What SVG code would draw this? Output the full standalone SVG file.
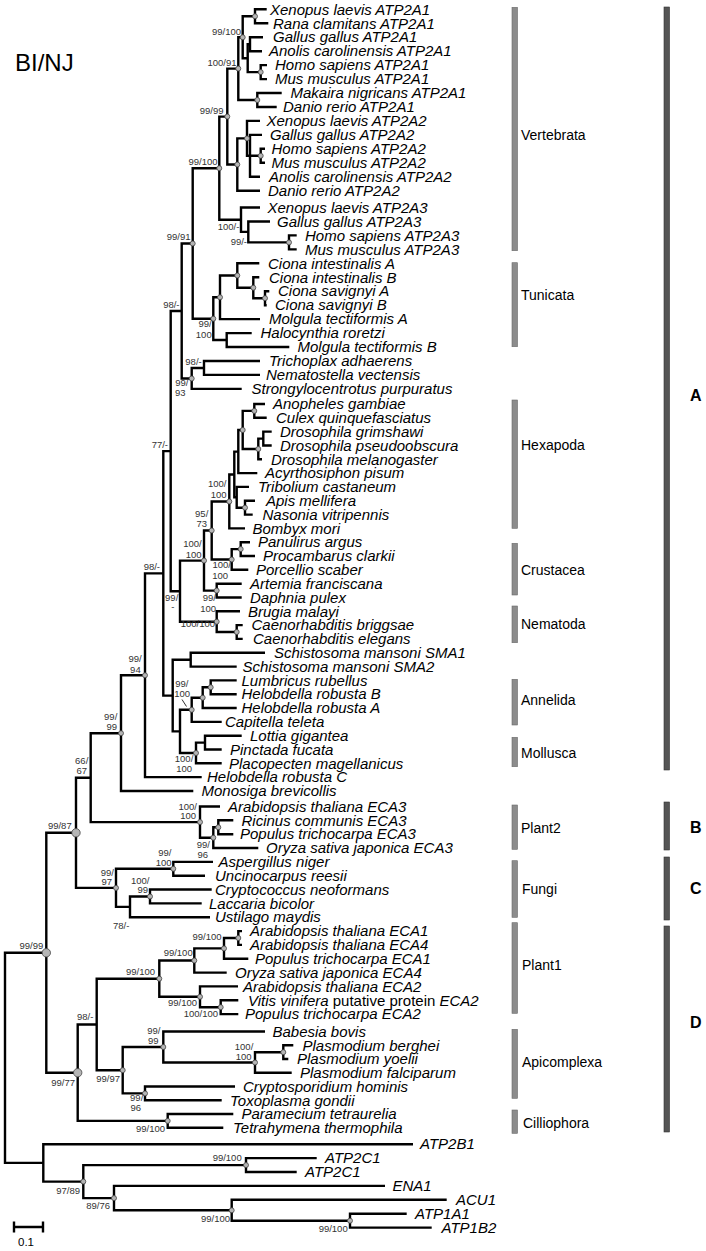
<svg xmlns="http://www.w3.org/2000/svg" width="706" height="1251" viewBox="0 0 706 1251">
<style>
.br{fill:none;stroke:#000;stroke-width:2.4;stroke-linejoin:miter;stroke-linecap:butt}
.lf{font-family:"Liberation Sans",Arial,sans-serif;font-size:15px;font-style:italic;fill:#000}
.nr{font-style:normal}
.sp{font-family:"Liberation Sans",Arial,sans-serif;font-size:9.5px;fill:#333;text-anchor:end}
.dt{fill:#b5b5b5;stroke:#444;stroke-width:0.8}
.cl{font-family:"Liberation Sans",Arial,sans-serif;font-size:14px;fill:#000}
.b1{fill:#8c8c8c;stroke:#6a6a6a;stroke-width:0.6}
.b2{fill:#555;stroke:#333;stroke-width:0.6}
.gl{font-family:"Liberation Sans",Arial,sans-serif;font-size:16px;font-weight:bold;fill:#000}
</style>
<rect width="706" height="1251" fill="#fff"/>
<text x="15" y="70.5" font-family="Liberation Sans, Arial, sans-serif" font-size="24" fill="#000">BI/NJ</text>
<g id="branches" class="br">
<path d="M266.7 9.3H255V23.3H268.3"/>
<path d="M263 37.2H250V51.2H262"/>
<path d="M267 65.1H260.7V79.1H267"/>
<path d="M250 44.2H247.7V72.1H260.7"/>
<path d="M255 16.3H242.7V58.2H247.7"/>
<path d="M281.7 93H257.3V107H276.7"/>
<path d="M242.7 37.3H238.3V100H257.3"/>
<path d="M265 148.8H260.7V162.8H265"/>
<path d="M262 134.9H250V176.7H260M250 155.8H260.7"/>
<path d="M260 120.9H247V155.8H250"/>
<path d="M247 138.4H237.3V190.7H260"/>
<path d="M238.3 68.6H227.3V164.5H237.3"/>
<path d="M296.7 235.4H289V249.4H296.7"/>
<path d="M270 221.5H248.3V242.4H289"/>
<path d="M260 207.5H241V231.9H248.3"/>
<path d="M227.3 116.6H219.3V219.7H241"/>
<path d="M269.3 291.2H265V305.2H266.7"/>
<path d="M259.3 277.3H253.3V298.2H265"/>
<path d="M259.3 263.3H237.3V287.7H253.3"/>
<path d="M237.3 275.5H220V319.1H260"/>
<path d="M251.7 333.1H226.7V347H289.3"/>
<path d="M220 297.3H213.3V340H226.7"/>
<path d="M219.3 168.2H192.7V318.7H213.3"/>
<path d="M260 361H204V374.9H260"/>
<path d="M204 368H191.7V388.9H241.7"/>
<path d="M192.7 243.5H181.7V378.5H191.7"/>
<path d="M265 404H254.3V417.8H266.7"/>
<path d="M271.7 431.6H263.3V445.5H271.7"/>
<path d="M263.3 438.6H258.3V459.3H262"/>
<path d="M254.3 410.9H242.7V449H258.3"/>
<path d="M242.7 430H238.3V473.1H257.3"/>
<path d="M255 500.7H245V514.6H252.7"/>
<path d="M249 486.9H236.7V507.7H245"/>
<path d="M238.3 451.6H234.3V497.3H236.7"/>
<path d="M234.3 474.5H229.3V528.4H245"/>
<path d="M250 542.2H240.7V556H255"/>
<path d="M240.7 549.1H231.7V569.8H248.3"/>
<path d="M229.3 501.5H211.7V559.5H231.7"/>
<path d="M241.7 583.7H216.7V597.5H241.7"/>
<path d="M211.7 530.5H204V590.6H216.7"/>
<path d="M242.7 625.1H236.7V638.9H242.7"/>
<path d="M240 611.3H216.7V632H236.7"/>
<path d="M204 560.6H180V621.7H216.7"/>
<path d="M181.7 311H170.7V591.2H180"/>
<path d="M265 652.8H190.7V666.6H236.7"/>
<path d="M236.7 680.4H210.7V694.2H236.7"/>
<path d="M210.7 687.3H202.7V708H236.7"/>
<path d="M202.7 697.7H191.7V721.9H221.7"/>
<path d="M241.7 735.7H205V749.5H221.7"/>
<path d="M205 742.6H196V763.3H221.7"/>
<path d="M191.7 709.8H180V753H196"/>
<path d="M190.7 659.7H172.7V731.4H180"/>
<path d="M170.7 451.1H163.3V695.6H172.7"/>
<path d="M163.3 573.4H145V777.1H201.7"/>
<path d="M145 675.3H121V791H193.3"/>
<path d="M233.3 820.3H218.3V834.2H233.3"/>
<path d="M218.3 827.3H213.3V848H258.3"/>
<path d="M220 806.5H200V837.7H213.3"/>
<path d="M121 733.2H90.7V822.1H200"/>
<path d="M213 861.9H173.3V875.7H205"/>
<path d="M211.7 889.5H150V903.4H201.7"/>
<path d="M150 896.5H130V917.2H210"/>
<path d="M173.3 868.8H116V906.9H130"/>
<path d="M90.7 777.7H76V887.9H116"/>
<path d="M242 931.1H238.3V944.9H242"/>
<path d="M238.3 938H224V958.7H248.3"/>
<path d="M224 948.4H194.3V972.6H226.7"/>
<path d="M238.3 1000.3H220.7V1014.1H238.3"/>
<path d="M238 986.4H200V1007.2H220.7"/>
<path d="M194.3 960.5H159.3V996.8H200"/>
<path d="M293.3 1045.3H283.3V1059H288.3"/>
<path d="M283.3 1052.2H255V1072.8H291.7"/>
<path d="M265 1031.5H163.3V1062.5H255"/>
<path d="M235 1086.5H145V1100.3H221.7"/>
<path d="M163.3 1047H122.7V1093.4H145"/>
<path d="M159.3 978.7H96.7V1070.2H122.7"/>
<path d="M233.3 1114H167.7V1127.8H223.3"/>
<path d="M96.7 1024.5H77.7V1120.9H167.7"/>
<path d="M76 832.8H46.3V1072.7H77.7"/>
<path d="M316.7 1158.1H246V1172H296.7"/>
<path d="M406.7 1213.7H350V1227.6H431.7"/>
<path d="M446.7 1199.8H231.7V1220.7H350"/>
<path d="M385 1185.9H114V1210.3H231.7"/>
<path d="M246 1165.1H83.3V1198.1H114"/>
<path d="M413 1144.2H43.3V1181.6H83.3"/>
<path d="M46.3 952.8H5V1162.9H43.3"/>
</g>
<g id="leaves" class="lf">
<g id="leaf0"><text x="270" y="14.5">Xenopus laevis ATP2A1</text></g>
<g id="leaf1"><text x="273" y="28.5">Rana clamitans ATP2A1</text></g>
<g id="leaf2"><text x="273" y="42.4">Gallus gallus ATP2A1</text></g>
<g id="leaf3"><text x="269" y="56.4">Anolis carolinensis ATP2A1</text></g>
<g id="leaf4"><text x="275" y="70.3">Homo sapiens ATP2A1</text></g>
<g id="leaf5"><text x="275" y="84.3">Mus musculus ATP2A1</text></g>
<g id="leaf6"><text x="290.5" y="98.2">Makaira nigricans ATP2A1</text></g>
<g id="leaf7"><text x="283" y="112.2">Danio rerio ATP2A1</text></g>
<g id="leaf8"><text x="266.5" y="126.1">Xenopus laevis ATP2A2</text></g>
<g id="leaf9"><text x="270" y="140.1">Gallus gallus ATP2A2</text></g>
<g id="leaf10"><text x="271.5" y="154">Homo sapiens ATP2A2</text></g>
<g id="leaf11"><text x="271.5" y="168">Mus musculus ATP2A2</text></g>
<g id="leaf12"><text x="269" y="181.9">Anolis carolinensis ATP2A2</text></g>
<g id="leaf13"><text x="268" y="195.9">Danio rerio ATP2A2</text></g>
<g id="leaf14"><text x="267.5" y="212.7">Xenopus laevis ATP2A3</text></g>
<g id="leaf15"><text x="277" y="226.7">Gallus gallus ATP2A3</text></g>
<g id="leaf16"><text x="305" y="240.6">Homo sapiens ATP2A3</text></g>
<g id="leaf17"><text x="305" y="254.6">Mus musculus ATP2A3</text></g>
<g id="leaf18"><text x="268" y="268.5">Ciona intestinalis A</text></g>
<g id="leaf19"><text x="269" y="282.5">Ciona intestinalis B</text></g>
<g id="leaf20"><text x="278" y="296.4">Ciona savignyi A</text></g>
<g id="leaf21"><text x="275" y="310.4">Ciona savignyi B</text></g>
<g id="leaf22"><text x="269" y="324.3">Molgula tectiformis A</text></g>
<g id="leaf23"><text x="260.5" y="338.3">Halocynthia roretzi</text></g>
<g id="leaf24"><text x="297.5" y="352.2">Molgula tectiformis B</text></g>
<g id="leaf25"><text x="269" y="366.2">Trichoplax adhaerens</text></g>
<g id="leaf26"><text x="266" y="380.1">Nematostella vectensis</text></g>
<g id="leaf27"><text x="251.5" y="394.1">Strongylocentrotus purpuratus</text></g>
<g id="leaf28"><text x="273" y="409.2">Anopheles gambiae</text></g>
<g id="leaf29"><text x="276" y="423">Culex quinquefasciatus</text></g>
<g id="leaf30"><text x="280" y="436.8">Drosophila grimshawi</text></g>
<g id="leaf31"><text x="280" y="450.7">Drosophila pseudoobscura</text></g>
<g id="leaf32"><text x="271" y="464.5">Drosophila melanogaster</text></g>
<g id="leaf33"><text x="265" y="478.3">Acyrthosiphon pisum</text></g>
<g id="leaf34"><text x="258" y="492.1">Tribolium castaneum</text></g>
<g id="leaf35"><text x="266" y="505.9">Apis mellifera</text></g>
<g id="leaf36"><text x="262.5" y="519.8">Nasonia vitripennis</text></g>
<g id="leaf37"><text x="252.5" y="533.6">Bombyx mori</text></g>
<g id="leaf38"><text x="258" y="547.4">Panulirus argus</text></g>
<g id="leaf39"><text x="263" y="561.2">Procambarus clarkii</text></g>
<g id="leaf40"><text x="256" y="575">Porcellio scaber</text></g>
<g id="leaf41"><text x="250" y="588.9">Artemia franciscana</text></g>
<g id="leaf42"><text x="250" y="602.7">Daphnia pulex</text></g>
<g id="leaf43"><text x="248" y="616.5">Brugia malayi</text></g>
<g id="leaf44"><text x="251.5" y="630.3">Caenorhabditis briggsae</text></g>
<g id="leaf45"><text x="253" y="644.1">Caenorhabditis elegans</text></g>
<g id="leaf46"><text x="274" y="658">Schistosoma mansoni SMA1</text></g>
<g id="leaf47"><text x="242.5" y="671.8">Schistosoma mansoni SMA2</text></g>
<g id="leaf48"><text x="241.5" y="685.6">Lumbricus rubellus</text></g>
<g id="leaf49"><text x="241.5" y="699.4">Helobdella robusta B</text></g>
<g id="leaf50"><text x="241.5" y="713.2">Helobdella robusta A</text></g>
<g id="leaf51"><text x="225" y="727.1">Capitella teleta</text></g>
<g id="leaf52"><text x="250" y="740.9">Lottia gigantea</text></g>
<g id="leaf53"><text x="230" y="754.7">Pinctada fucata</text></g>
<g id="leaf54"><text x="229" y="768.5">Placopecten magellanicus</text></g>
<g id="leaf55"><text x="207" y="782.3">Helobdella robusta C</text></g>
<g id="leaf56"><text x="201.5" y="796.2">Monosiga brevicollis</text></g>
<g id="leaf57"><text x="228" y="811.7">Arabidopsis thaliana ECA3</text></g>
<g id="leaf58"><text x="241.5" y="825.5">Ricinus communis ECA3</text></g>
<g id="leaf59"><text x="240" y="839.4">Populus trichocarpa ECA3</text></g>
<g id="leaf60"><text x="266" y="853.2">Oryza sativa japonica ECA3</text></g>
<g id="leaf61"><text x="218.5" y="867.1">Aspergillus niger</text></g>
<g id="leaf62"><text x="215" y="880.9">Uncinocarpus reesii</text></g>
<g id="leaf63"><text x="215" y="894.7">Cryptococcus neoformans</text></g>
<g id="leaf64"><text x="209" y="908.6">Laccaria bicolor</text></g>
<g id="leaf65"><text x="215" y="922.4">Ustilago maydis</text></g>
<g id="leaf66"><text x="250" y="936.3">Arabidopsis thaliana ECA1</text></g>
<g id="leaf67"><text x="250" y="950.1">Arabidopsis thaliana ECA4</text></g>
<g id="leaf68"><text x="255" y="963.9">Populus trichocarpa ECA1</text></g>
<g id="leaf69"><text x="235" y="977.8">Oryza sativa japonica ECA4</text></g>
<g id="leaf70"><text x="243" y="991.6">Arabidopsis thaliana ECA2</text></g>
<g id="leaf71"><text x="248" y="1005.5"><tspan>Vitis vinifera</tspan><tspan class="nr"> putative protein </tspan><tspan>ECA2</tspan></text></g>
<g id="leaf72"><text x="245" y="1019.3">Populus trichocarpa ECA2</text></g>
<g id="leaf73"><text x="272.5" y="1036.7">Babesia bovis</text></g>
<g id="leaf74"><text x="302.5" y="1050.5">Plasmodium berghei</text></g>
<g id="leaf75"><text x="297" y="1064.2">Plasmodium yoelii</text></g>
<g id="leaf76"><text x="300" y="1078">Plasmodium falciparum</text></g>
<g id="leaf77"><text x="243" y="1091.7">Cryptosporidium hominis</text></g>
<g id="leaf78"><text x="230" y="1105.5">Toxoplasma gondii</text></g>
<g id="leaf79"><text x="241.5" y="1119.2">Paramecium tetraurelia</text></g>
<g id="leaf80"><text x="233" y="1133">Tetrahymena thermophila</text></g>
<g id="leaf81"><text x="420" y="1149.4">ATP2B1</text></g>
<g id="leaf82"><text x="325" y="1163.3">ATP2C1</text></g>
<g id="leaf83"><text x="305" y="1177.2">ATP2C1</text></g>
<g id="leaf84"><text x="392.5" y="1191.1">ENA1</text></g>
<g id="leaf85"><text x="456" y="1205">ACU1</text></g>
<g id="leaf86"><text x="415" y="1218.9">ATP1A1</text></g>
<g id="leaf87"><text x="441.5" y="1232.8">ATP1B2</text></g>
</g>
<g id="inner-nodes">
<g id="n1"><circle class="dt" cx="255" cy="16.3" r="2.5"/></g>
<g id="n3"><circle class="dt" cx="260.7" cy="72.1" r="2.5"/></g>
<g id="n5"><circle class="dt" cx="242.7" cy="37.3" r="2.5"/><text class="sp" x="241" y="34.5">99/100</text></g>
<g id="n6"><circle class="dt" cx="257.3" cy="100" r="2.5"/></g>
<g id="n7"><circle class="dt" cx="238.3" cy="68.6" r="2.5"/><text class="sp" x="236.5" y="65.5">100/91</text></g>
<g id="n8"><circle class="dt" cx="260.7" cy="155.8" r="2.5"/></g>
<g id="n10"><circle class="dt" cx="247" cy="138.4" r="2.5"/></g>
<g id="n11"><circle class="dt" cx="237.3" cy="164.5" r="2.5"/></g>
<g id="n12"><circle class="dt" cx="227.3" cy="116.6" r="2.5"/><text class="sp" x="223.5" y="113.5">99/99</text></g>
<g id="n13"><circle class="dt" cx="289" cy="242.4" r="2.5"/></g>
<g id="n14"><text class="sp" x="247" y="244.5">99/-</text></g>
<g id="n15"><text class="sp" x="239.3" y="229.5">100/-</text></g>
<g id="n16"><circle class="dt" cx="219.3" cy="168.2" r="2.5"/><text class="sp" x="217.5" y="164.5">99/100</text></g>
<g id="n17"><circle class="dt" cx="265" cy="298.2" r="2.5"/></g>
<g id="n18"><circle class="dt" cx="253.3" cy="287.7" r="2.5"/></g>
<g id="n19"><circle class="dt" cx="237.3" cy="275.5" r="2.5"/></g>
<g id="n20"><circle class="dt" cx="220" cy="297.3" r="2.5"/></g>
<g id="n22"><circle class="dt" cx="213.3" cy="318.7" r="2.5"/><text class="sp" x="211.7" y="327">99/</text><text class="sp" x="211.7" y="337.5">100</text></g>
<g id="n23"><circle class="dt" cx="192.7" cy="243.5" r="2.5"/><text class="sp" x="190.5" y="239.5">99/91</text></g>
<g id="n24"><text class="sp" x="201.7" y="364.5">98/-</text></g>
<g id="n25"><circle class="dt" cx="191.7" cy="378.5" r="2.5"/><text class="sp" x="188.5" y="386">99/</text><text class="sp" x="185.5" y="395.5">93</text></g>
<g id="n26"><text class="sp" x="179.5" y="307.5">98/-</text></g>
<g id="n27"><circle class="dt" cx="254.3" cy="410.9" r="2.5"/></g>
<g id="n29"><circle class="dt" cx="258.3" cy="449" r="2.5"/></g>
<g id="n30"><circle class="dt" cx="242.7" cy="430" r="2.5"/></g>
<g id="n32"><circle class="dt" cx="245" cy="507.7" r="2.5"/></g>
<g id="n35"><circle class="dt" cx="229.3" cy="501.5" r="2.5"/><text class="sp" x="226.5" y="487">100/</text><text class="sp" x="226.5" y="497.5">100</text></g>
<g id="n36"><circle class="dt" cx="240.7" cy="549.1" r="2.5"/></g>
<g id="n37"><circle class="dt" cx="231.7" cy="559.5" r="2.5"/><text class="sp" x="231" y="568">100/</text><text class="sp" x="228" y="578.5">100</text></g>
<g id="n38"><circle class="dt" cx="211.7" cy="530.5" r="2.5"/><text class="sp" x="208.3" y="516.5">95/</text><text class="sp" x="207" y="527">73</text></g>
<g id="n39"><circle class="dt" cx="216.7" cy="590.6" r="2.5"/><text class="sp" x="216" y="601">99/</text><text class="sp" x="216" y="611.5">100</text></g>
<g id="n40"><circle class="dt" cx="204" cy="560.6" r="2.5"/><text class="sp" x="201.7" y="547">100/</text><text class="sp" x="201.5" y="557.5">100</text></g>
<g id="n41"><circle class="dt" cx="236.7" cy="632" r="2.5"/></g>
<g id="n42"><circle class="dt" cx="216.7" cy="621.7" r="2.5"/><text class="sp" x="215" y="627">100/100</text></g>
<g id="n43"><text class="sp" x="178.3" y="601">99/</text><text class="sp" x="174.5" y="610">-</text></g>
<g id="n44"><text class="sp" x="168" y="447.5">77/-</text></g>
<g id="n46"><circle class="dt" cx="210.7" cy="687.3" r="2.5"/></g>
<g id="n47"><circle class="dt" cx="202.7" cy="697.7" r="2.5"/></g>
<g id="n48"><circle class="dt" cx="191.7" cy="709.8" r="2.5"/><text class="sp" x="188.5" y="686.5">99/</text><text class="sp" x="190" y="697">100</text><path d="M182 699.5L186.5 706.5" stroke="#333" stroke-width="1" fill="none"/></g>
<g id="n50"><circle class="dt" cx="196" cy="753" r="2.5"/><text class="sp" x="193.3" y="762">100/</text><text class="sp" x="192" y="772">100</text></g>
<g id="n53"><text class="sp" x="160" y="569.5">98/-</text></g>
<g id="n54"><circle class="dt" cx="145" cy="675.3" r="2.5"/><text class="sp" x="141.7" y="662">99/</text><text class="sp" x="140.7" y="672.5">94</text></g>
<g id="n55"><circle class="dt" cx="121" cy="733.2" r="2.5"/><text class="sp" x="117.3" y="719.5">99/</text><text class="sp" x="117" y="729.5">99</text></g>
<g id="n56"><circle class="dt" cx="218.3" cy="827.3" r="2.5"/></g>
<g id="n57"><circle class="dt" cx="213.3" cy="837.7" r="2.5"/><text class="sp" x="210" y="848">99/</text><text class="sp" x="208" y="857.5">96</text></g>
<g id="n58"><circle class="dt" cx="200" cy="822.1" r="2.5"/><text class="sp" x="197" y="809.5">100/</text><text class="sp" x="196" y="819">100</text></g>
<g id="n59"><text class="sp" x="88.3" y="763.5">66/</text><text class="sp" x="87" y="773.5">67</text></g>
<g id="n60"><circle class="dt" cx="173.3" cy="868.8" r="2.5"/><text class="sp" x="171.5" y="855.5">99/</text><text class="sp" x="171.5" y="865.5">100</text></g>
<g id="n61"><circle class="dt" cx="150" cy="896.5" r="2.5"/><text class="sp" x="149.5" y="883.5">100/</text><text class="sp" x="148" y="892.5">99</text></g>
<g id="n62"><text class="sp" x="129.3" y="928.5">78/-</text></g>
<g id="n63"><circle class="dt" cx="116" cy="887.9" r="2.5"/><text class="sp" x="114" y="875.5">99/</text><text class="sp" x="112" y="885.3">97</text></g>
<g id="n64"><circle class="dt" cx="76" cy="832.8" r="4.2"/><text class="sp" x="71.7" y="829">99/87</text></g>
<g id="n65"><circle class="dt" cx="238.3" cy="938" r="2.5"/></g>
<g id="n66"><circle class="dt" cx="224" cy="948.4" r="2.5"/><text class="sp" x="221.5" y="940">99/100</text></g>
<g id="n67"><circle class="dt" cx="194.3" cy="960.5" r="2.5"/><text class="sp" x="192.7" y="955.5">99/100</text></g>
<g id="n68"><circle class="dt" cx="220.7" cy="1007.2" r="2.5"/><text class="sp" x="218" y="1017">100/100</text></g>
<g id="n69"><circle class="dt" cx="200" cy="996.8" r="2.5"/><text class="sp" x="197" y="1006">99/100</text></g>
<g id="n70"><circle class="dt" cx="159.3" cy="978.7" r="2.5"/><text class="sp" x="155" y="974.5">99/100</text></g>
<g id="n71"><circle class="dt" cx="283.3" cy="1052.2" r="2.5"/></g>
<g id="n72"><circle class="dt" cx="255" cy="1062.5" r="2.5"/><text class="sp" x="253.3" y="1049.5">100/</text><text class="sp" x="251.5" y="1059.5">100</text></g>
<g id="n73"><circle class="dt" cx="163.3" cy="1047" r="2.5"/><text class="sp" x="160.5" y="1033.5">99/</text><text class="sp" x="158.5" y="1043.5">99</text></g>
<g id="n74"><circle class="dt" cx="145" cy="1093.4" r="2.5"/><text class="sp" x="143.3" y="1101">99/</text><text class="sp" x="141" y="1110.5">96</text></g>
<g id="n75"><circle class="dt" cx="122.7" cy="1070.2" r="2.5"/><text class="sp" x="120" y="1081.5">99/97</text></g>
<g id="n76"><text class="sp" x="93.3" y="1019.5">98/-</text></g>
<g id="n77"><circle class="dt" cx="167.7" cy="1120.9" r="2.5"/><text class="sp" x="165" y="1131.5">99/100</text></g>
<g id="n78"><circle class="dt" cx="77.7" cy="1072.7" r="4.2"/><text class="sp" x="75" y="1085.5">99/77</text></g>
<g id="n79"><circle class="dt" cx="46.3" cy="952.8" r="4.2"/><text class="sp" x="43.3" y="949">99/99</text></g>
<g id="n80"><circle class="dt" cx="246" cy="1165.1" r="2.5"/><text class="sp" x="241.7" y="1160.5">99/100</text></g>
<g id="n81"><circle class="dt" cx="350" cy="1220.7" r="2.5"/><text class="sp" x="347.7" y="1232">99/100</text></g>
<g id="n82"><circle class="dt" cx="231.7" cy="1210.3" r="2.5"/><text class="sp" x="230" y="1222">99/100</text></g>
<g id="n83"><circle class="dt" cx="114" cy="1198.1" r="2.5"/><text class="sp" x="110" y="1209">89/76</text></g>
<g id="n84"><circle class="dt" cx="83.3" cy="1181.6" r="2.5"/><text class="sp" x="80" y="1193.5">97/89</text></g>
</g>
<g id="scale-bar">
<path d="M14 1227H43M14 1221.5V1232.5M43 1221.5V1232.5" stroke="#000" stroke-width="2.4" fill="none"/>
<text x="18" y="1246" font-family="Liberation Sans, Arial, sans-serif" font-size="11.5" fill="#000">0.1</text>
</g>
<g id="clade-bars">
<g id="c-vertebrata"><rect class="b1" x="512" y="7.3" width="5.5" height="243.4"/><text class="cl" x="521" y="140">Vertebrata</text></g>
<g id="c-tunicata"><rect class="b1" x="512" y="262.7" width="5.5" height="84"/><text class="cl" x="521" y="300">Tunicata</text></g>
<g id="c-hexapoda"><rect class="b1" x="512" y="400" width="5.5" height="128.3"/><text class="cl" x="521" y="450">Hexapoda</text></g>
<g id="c-crustacea"><rect class="b1" x="512" y="543.3" width="5.5" height="51.7"/><text class="cl" x="521" y="575">Crustacea</text></g>
<g id="c-nematoda"><rect class="b1" x="512" y="606" width="5.5" height="36.7"/><text class="cl" x="521" y="628.5">Nematoda</text></g>
<g id="c-annelida"><rect class="b1" x="512" y="679.3" width="5.5" height="45.7"/><text class="cl" x="521" y="705">Annelida</text></g>
<g id="c-mollusca"><rect class="b1" x="512" y="737.3" width="5.5" height="29.4"/><text class="cl" x="521" y="757.5">Mollusca</text></g>
<g id="c-plant2"><rect class="b1" x="512" y="805" width="5.5" height="44.3"/><text class="cl" x="521" y="832.5">Plant2</text></g>
<g id="c-fungi"><rect class="b1" x="512" y="860.7" width="5.5" height="56.6"/><text class="cl" x="522" y="893.5">Fungi</text></g>
<g id="c-plant1"><rect class="b1" x="512" y="922.7" width="5.5" height="90.6"/><text class="cl" x="522" y="970">Plant1</text></g>
<g id="c-apicomplexa"><rect class="b1" x="512" y="1029.3" width="5.5" height="69"/><text class="cl" x="522" y="1066.5">Apicomplexa</text></g>
<g id="c-cilliophora"><rect class="b1" x="512" y="1110" width="5.5" height="23.3"/><text class="cl" x="523" y="1127.5">Cilliophora</text></g>
</g>
<g id="groups">
<g id="g-A"><rect class="b2" x="664" y="7" width="5.5" height="763"/><text class="gl" x="690" y="401">A</text></g>
<g id="g-B"><rect class="b2" x="664" y="802" width="5.5" height="48"/><text class="gl" x="690" y="833">B</text></g>
<g id="g-C"><rect class="b2" x="664" y="857" width="5.5" height="63"/><text class="gl" x="690" y="894">C</text></g>
<g id="g-D"><rect class="b2" x="664" y="926" width="5.5" height="206"/><text class="gl" x="690" y="1028">D</text></g>
</g>
</svg>
